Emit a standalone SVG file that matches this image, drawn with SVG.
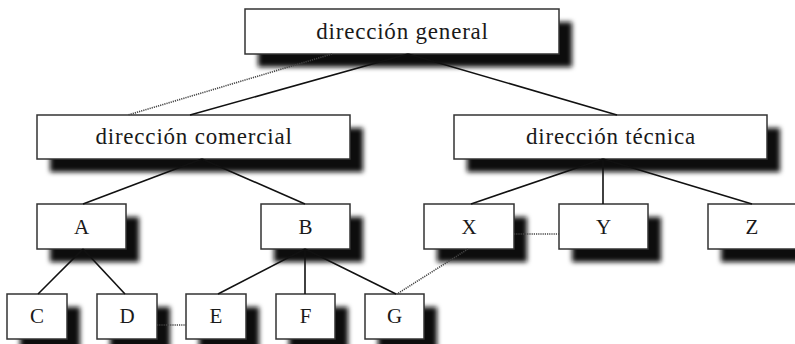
<svg xmlns="http://www.w3.org/2000/svg" width="795" height="344" viewBox="0 0 795 344">
  <style>
    .shadow { fill: #111; filter: url(#soft); }
    .box { fill: #fff; stroke: #333; stroke-width: 1.5; }
    .label { font-family: "Liberation Serif", "Times New Roman", serif; fill: #1a1a1a; text-anchor: middle; }
    .big { font-size: 23px; letter-spacing: 0.8px; }
    .small { font-size: 21px; }
    .link { stroke: #111; stroke-width: 1.6; fill: none; }
    .dotted { stroke: #444; stroke-width: 1.6; stroke-dasharray: 1.2 1; fill: none; }
  </style>
  <defs>
    <filter id="soft" x="-30%" y="-50%" width="160%" height="200%">
      <feGaussianBlur stdDeviation="2.6"/>
    </filter>
  </defs>
  <rect width="795" height="344" fill="#fff"/>

  <g id="direccion-general">
    <rect class="shadow" x="258" y="22" width="314" height="45"/>
    <rect class="box" x="245" y="9" width="314" height="45"/>
    <text class="label big" x="402.5" y="39">dirección general</text>
  </g>
  <g id="direccion-comercial">
    <rect class="shadow" x="50" y="128" width="313" height="44"/>
    <rect class="box" x="37" y="115" width="313" height="44"/>
    <text class="label big" x="194" y="144">dirección comercial</text>
  </g>
  <g id="direccion-tecnica">
    <rect class="shadow" x="467" y="128" width="313" height="44"/>
    <rect class="box" x="454" y="115" width="313" height="44"/>
    <text class="label big" x="611" y="144">dirección técnica</text>
  </g>

  <g id="node-a">
    <rect class="shadow" x="50" y="217" width="89" height="45"/>
    <rect class="box" x="37" y="204" width="89" height="45"/>
    <text class="label small" x="81.5" y="234">A</text>
  </g>
  <g id="node-b">
    <rect class="shadow" x="274" y="217" width="89" height="45"/>
    <rect class="box" x="261" y="204" width="89" height="45"/>
    <text class="label small" x="305.5" y="234">B</text>
  </g>
  <g id="node-x">
    <rect class="shadow" x="437" y="217" width="90" height="45"/>
    <rect class="box" x="424" y="204" width="90" height="45"/>
    <text class="label small" x="469" y="234">X</text>
  </g>
  <g id="node-y">
    <rect class="shadow" x="572" y="217" width="89" height="45"/>
    <rect class="box" x="559" y="204" width="89" height="45"/>
    <text class="label small" x="603.5" y="234">Y</text>
  </g>
  <g id="node-z">
    <rect class="shadow" x="721" y="217" width="89" height="45"/>
    <rect class="box" x="708" y="204" width="89" height="45"/>
    <text class="label small" x="752" y="234">Z</text>
  </g>

  <g id="node-c">
    <rect class="shadow" x="20" y="307" width="60" height="45"/>
    <rect class="box" x="7" y="294" width="60" height="45"/>
    <text class="label small" x="37" y="323">C</text>
  </g>
  <g id="node-d">
    <rect class="shadow" x="110" y="307" width="60" height="45"/>
    <rect class="box" x="97" y="294" width="60" height="45"/>
    <text class="label small" x="127" y="323">D</text>
  </g>
  <g id="node-e">
    <rect class="shadow" x="199" y="307" width="60" height="45"/>
    <rect class="box" x="186" y="294" width="60" height="45"/>
    <text class="label small" x="216" y="323">E</text>
  </g>
  <g id="node-f">
    <rect class="shadow" x="289" y="307" width="59" height="45"/>
    <rect class="box" x="276" y="294" width="59" height="45"/>
    <text class="label small" x="305.5" y="323">F</text>
  </g>
  <g id="node-g">
    <rect class="shadow" x="378" y="307" width="59" height="45"/>
    <rect class="box" x="365" y="294" width="59" height="45"/>
    <text class="label small" x="394.5" y="323">G</text>
  </g>

  <g id="connectors">
    <!-- hierarchy lines -->
    <line class="link" x1="408" y1="54" x2="190" y2="115"/>
    <line class="link" x1="408" y1="54" x2="617" y2="115"/>
    <line class="link" x1="202" y1="159" x2="83" y2="204"/>
    <line class="link" x1="202" y1="159" x2="305" y2="204"/>
    <line class="link" x1="603" y1="159" x2="471" y2="204"/>
    <line class="link" x1="603" y1="159" x2="603" y2="204"/>
    <line class="link" x1="603" y1="159" x2="752" y2="204"/>
    <line class="link" x1="83" y1="249" x2="38" y2="294"/>
    <line class="link" x1="83" y1="249" x2="125" y2="294"/>
    <line class="link" x1="305" y1="249" x2="218" y2="294"/>
    <line class="link" x1="305" y1="249" x2="305" y2="294"/>
    <line class="link" x1="305" y1="249" x2="396" y2="294"/>
    <!-- informal relations -->
    <line class="dotted" x1="332" y1="54" x2="128" y2="115"/>
    <line class="dotted" x1="514" y1="234" x2="559" y2="234"/>
    <line class="dotted" x1="157" y1="325" x2="186" y2="325"/>
    <line class="dotted" x1="468" y1="249" x2="397" y2="294"/>
  </g>
</svg>
